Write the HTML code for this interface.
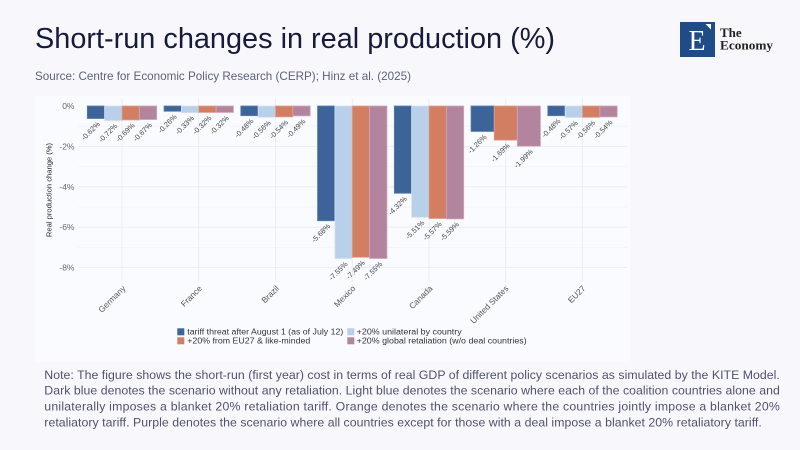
<!DOCTYPE html>
<html>
<head>
<meta charset="utf-8">
<style>
  html,body{margin:0;padding:0;background:#f8f8fc;}
  svg{display:block;}
  .t{font-family:"Liberation Sans",sans-serif;}
  .s{font-family:"Liberation Serif",serif;}
</style>
</head>
<body>
<svg width="800" height="450" viewBox="0 0 800 450" xmlns="http://www.w3.org/2000/svg">
  <rect x="0" y="0" width="800" height="450" fill="#f8f8fc"/>
  <!-- chart image area -->
  <rect x="35" y="96" width="595" height="266" fill="#fafbfe"/>

  <!-- Title -->
  <text class="t" x="35" y="48" font-size="29" fill="#161b3c" textLength="520" lengthAdjust="spacingAndGlyphs">Short-run changes in real production (%)</text>
  <text class="t" x="35" y="80" font-size="12" fill="#5b627a" textLength="376" lengthAdjust="spacingAndGlyphs">Source: Centre for Economic Policy Research (CERP); Hinz et al. (2025)</text>

  <!-- Logo -->
  <rect x="680" y="22" width="35" height="35" fill="#1f4b87"/>
  <text class="s" x="688.5" y="50" font-size="28" fill="#ffffff">E</text>
  <polygon points="705.5,24 711,24 711,29.5" fill="#ffffff"/>
  <text class="s" x="720" y="37" font-size="13" font-weight="bold" fill="#222">The</text>
  <text class="s" x="720" y="49.5" font-size="13" font-weight="bold" fill="#222" textLength="53" lengthAdjust="spacingAndGlyphs">Economy</text>

  <!-- Gridlines minor -->
  <g stroke="#f1f2f7" stroke-width="0.8">
    <line x1="78" y1="126.2" x2="627" y2="126.2"/>
    <line x1="78" y1="166.6" x2="627" y2="166.6"/>
    <line x1="78" y1="207" x2="627" y2="207"/>
    <line x1="78" y1="247.4" x2="627" y2="247.4"/>
  </g>
  <!-- Gridlines major -->
  <g stroke="#eaecf2" stroke-width="0.9">
    <line x1="78" y1="146.4" x2="627" y2="146.4"/>
    <line x1="78" y1="186.8" x2="627" y2="186.8"/>
    <line x1="78" y1="227.2" x2="627" y2="227.2"/>
    <line x1="78" y1="267.6" x2="627" y2="267.6"/>
    <line x1="122" y1="98" x2="122" y2="282"/>
    <line x1="198.75" y1="98" x2="198.75" y2="282"/>
    <line x1="275.5" y1="98" x2="275.5" y2="282"/>
    <line x1="352.25" y1="98" x2="352.25" y2="282"/>
    <line x1="429" y1="98" x2="429" y2="282"/>
    <line x1="505.75" y1="98" x2="505.75" y2="282"/>
    <line x1="582.5" y1="98" x2="582.5" y2="282"/>
  </g>

  <!-- Y ticks -->
  <g class="t" font-size="8.5" fill="#666" text-anchor="end">
    <text x="74.5" y="109">0%</text>
    <text x="74.5" y="149.4">-2%</text>
    <text x="74.5" y="189.8">-4%</text>
    <text x="74.5" y="230.2">-6%</text>
    <text x="74.5" y="270.6">-8%</text>
  </g>
  <text class="t" transform="translate(51.5,190) rotate(-90)" font-size="7.6" fill="#2a2a2a" text-anchor="middle">Real production change (%)</text>

  <!-- Bars -->
  <g stroke-width="0.8">
    <!-- Germany -->
    <rect x="87.3" y="106" width="17.35" height="12.52" fill="#3d6499" stroke="#5a7db0"/>
    <rect x="104.65" y="106" width="17.35" height="14.54" fill="#b9d0ea" stroke="#d4e2f3"/>
    <rect x="122" y="106" width="17.35" height="13.94" fill="#d27e62" stroke="#e2a08a"/>
    <rect x="139.35" y="106" width="17.35" height="13.53" fill="#b2849e" stroke="#d3a6c0"/>
    <!-- France -->
    <rect x="164.05" y="106" width="17.35" height="5.25" fill="#3d6499" stroke="#5a7db0"/>
    <rect x="181.4" y="106" width="17.35" height="6.67" fill="#b9d0ea" stroke="#d4e2f3"/>
    <rect x="198.75" y="106" width="17.35" height="6.46" fill="#d27e62" stroke="#e2a08a"/>
    <rect x="216.1" y="106" width="17.35" height="6.46" fill="#b2849e" stroke="#d3a6c0"/>
    <!-- Brazil -->
    <rect x="240.8" y="106" width="17.35" height="9.70" fill="#3d6499" stroke="#5a7db0"/>
    <rect x="258.15" y="106" width="17.35" height="11.31" fill="#b9d0ea" stroke="#d4e2f3"/>
    <rect x="275.5" y="106" width="17.35" height="10.91" fill="#d27e62" stroke="#e2a08a"/>
    <rect x="292.85" y="106" width="17.35" height="9.90" fill="#b2849e" stroke="#d3a6c0"/>
    <!-- Mexico -->
    <rect x="317.55" y="106" width="17.35" height="114.74" fill="#3d6499" stroke="#5a7db0"/>
    <rect x="334.9" y="106" width="17.35" height="152.51" fill="#b9d0ea" stroke="#d4e2f3"/>
    <rect x="352.25" y="106" width="17.35" height="151.3" fill="#d27e62" stroke="#e2a08a"/>
    <rect x="369.6" y="106" width="17.35" height="152.51" fill="#b2849e" stroke="#d3a6c0"/>
    <!-- Canada -->
    <rect x="394.3" y="106" width="17.35" height="87.26" fill="#3d6499" stroke="#5a7db0"/>
    <rect x="411.65" y="106" width="17.35" height="111.3" fill="#b9d0ea" stroke="#d4e2f3"/>
    <rect x="429" y="106" width="17.35" height="112.51" fill="#d27e62" stroke="#e2a08a"/>
    <rect x="446.35" y="106" width="17.35" height="112.92" fill="#b2849e" stroke="#d3a6c0"/>
    <!-- United States -->
    <rect x="471.05" y="106" width="23.13" height="25.45" fill="#3d6499" stroke="#5a7db0"/>
    <rect x="494.18" y="106" width="23.13" height="34.14" fill="#d27e62" stroke="#e2a08a"/>
    <rect x="517.31" y="106" width="23.13" height="40.2" fill="#b2849e" stroke="#d3a6c0"/>
    <!-- EU27 -->
    <rect x="547.8" y="106" width="17.35" height="9.70" fill="#3d6499" stroke="#5a7db0"/>
    <rect x="565.15" y="106" width="17.35" height="11.51" fill="#b9d0ea" stroke="#d4e2f3"/>
    <rect x="582.5" y="106" width="17.35" height="11.31" fill="#d27e62" stroke="#e2a08a"/>
    <rect x="599.85" y="106" width="17.35" height="10.91" fill="#b2849e" stroke="#d3a6c0"/>
  </g>

  <!-- Bar labels -->
  <g class="t" font-size="7.3" fill="#444" text-anchor="end">
    <text transform="translate(100.5,124.5) rotate(-45)">-0.62%</text>
    <text transform="translate(117.8,126.5) rotate(-45)">-0.72%</text>
    <text transform="translate(135.2,125.9) rotate(-45)">-0.69%</text>
    <text transform="translate(152.5,125.5) rotate(-45)">-0.67%</text>

    <text transform="translate(177.2,117.3) rotate(-45)">-0.26%</text>
    <text transform="translate(194.6,118.7) rotate(-45)">-0.33%</text>
    <text transform="translate(211.9,118.5) rotate(-45)">-0.32%</text>
    <text transform="translate(229.3,118.5) rotate(-45)">-0.32%</text>

    <text transform="translate(254,121.7) rotate(-45)">-0.48%</text>
    <text transform="translate(271.3,123.3) rotate(-45)">-0.56%</text>
    <text transform="translate(288.7,122.9) rotate(-45)">-0.54%</text>
    <text transform="translate(306,121.9) rotate(-45)">-0.49%</text>

    <text transform="translate(330.7,226.7) rotate(-45)">-5.68%</text>
    <text transform="translate(348.1,264.5) rotate(-45)">-7.55%</text>
    <text transform="translate(365.4,263.3) rotate(-45)">-7.49%</text>
    <text transform="translate(382.8,264.5) rotate(-45)">-7.55%</text>

    <text transform="translate(407.5,199.3) rotate(-45)">-4.32%</text>
    <text transform="translate(424.8,223.3) rotate(-45)">-5.51%</text>
    <text transform="translate(442.2,224.5) rotate(-45)">-5.57%</text>
    <text transform="translate(459.5,224.9) rotate(-45)">-5.59%</text>

    <text transform="translate(487.1,137.5) rotate(-45)">-1.26%</text>
    <text transform="translate(510.2,146.1) rotate(-45)">-1.69%</text>
    <text transform="translate(533.4,152.2) rotate(-45)">-1.99%</text>

    <text transform="translate(561,121.7) rotate(-45)">-0.48%</text>
    <text transform="translate(578.3,123.5) rotate(-45)">-0.57%</text>
    <text transform="translate(595.7,123.3) rotate(-45)">-0.56%</text>
    <text transform="translate(613,122.9) rotate(-45)">-0.54%</text>
  </g>

  <!-- X labels -->
  <g class="t" font-size="8.3" fill="#555" text-anchor="end">
    <text transform="translate(126,289) rotate(-45)">Germany</text>
    <text transform="translate(202.5,289) rotate(-45)">France</text>
    <text transform="translate(279.5,289) rotate(-45)">Brazil</text>
    <text transform="translate(356,289) rotate(-45)">Mexico</text>
    <text transform="translate(433,289) rotate(-45)">Canada</text>
    <text transform="translate(509,289) rotate(-45)">United States</text>
    <text transform="translate(586,289) rotate(-45)">EU27</text>
  </g>

  <!-- Legend -->
  <rect x="177.3" y="328.3" width="7" height="7" fill="#3d6499"/>
  <rect x="177.3" y="337.3" width="7" height="7" fill="#d27e62"/>
  <rect x="347.3" y="328.3" width="7" height="7" fill="#b9d0ea"/>
  <rect x="347.3" y="337.3" width="7" height="7" fill="#b2849e"/>
  <g class="t" font-size="7.8" fill="#333">
    <text x="187.3" y="334.5" textLength="156" lengthAdjust="spacingAndGlyphs">tariff threat after August 1 (as of July 12)</text>
    <text x="187.3" y="343.5" textLength="123" lengthAdjust="spacingAndGlyphs">+20% from EU27 &amp; like-minded</text>
    <text x="356.7" y="334.5" textLength="105" lengthAdjust="spacingAndGlyphs">+20% unilateral by country</text>
    <text x="356.7" y="343.5" textLength="170" lengthAdjust="spacingAndGlyphs">+20% global retaliation (w/o deal countries)</text>
  </g>

  <!-- Note -->
  <g class="t" font-size="12.3" fill="#4d5370">
    <text x="44.3" y="379" textLength="735.5" lengthAdjust="spacing">Note: The figure shows the short-run (first year) cost in terms of real GDP of different policy scenarios as simulated by the KITE Model.</text>
    <text x="44.3" y="394.7" textLength="735.5" lengthAdjust="spacing">Dark blue denotes the scenario without any retaliation. Light blue denotes the scenario where each of the coalition countries alone and</text>
    <text x="44.3" y="410.5" textLength="735.5" lengthAdjust="spacing">unilaterally imposes a blanket 20% retaliation tariff. Orange denotes the scenario where the countries jointly impose a blanket 20%</text>
    <text x="44.3" y="426.5" textLength="717.5" lengthAdjust="spacing">retaliatory tariff. Purple denotes the scenario where all countries except for those with a deal impose a blanket 20% retaliatory tariff.</text>
  </g>
</svg>
</body>
</html>
